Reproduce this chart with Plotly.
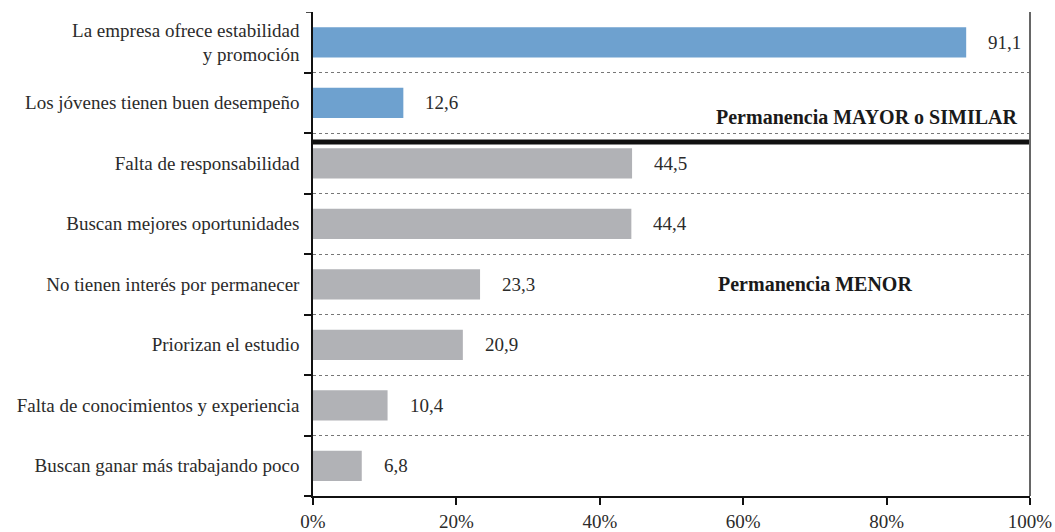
import plotly.graph_objects as go

categories = [
    "La empresa ofrece estabilidad<br>y promoción",
    "Los jóvenes tienen buen desempeño",
    "Falta de responsabilidad",
    "Buscan mejores oportunidades",
    "No tienen interés por permanecer",
    "Priorizan el estudio",
    "Falta de conocimientos y experiencia",
    "Buscan ganar más trabajando poco",
]
values = [91.1, 12.6, 44.5, 44.4, 23.3, 20.9, 10.4, 6.8]
groups = ["mayor", "mayor", "menor", "menor", "menor", "menor", "menor", "menor"]
x_ticks = [0, 20, 40, 60, 80, 100]
x_ticklabels = ["0%", "20%", "40%", "60%", "80%", "100%"]

BLUE = "#6EA1CF"
GRAY = "#B1B2B6"
FONT = "Liberation Serif"
TXT = "#2b2b2b"
FS = 19

pos = list(range(len(categories)))
colors = [BLUE if g == "mayor" else GRAY for g in groups]

fig = go.Figure()
fig.add_trace(go.Bar(
    y=pos, x=values, orientation="h", width=0.5,
    marker=dict(color=colors, line=dict(width=0)),
    hoverinfo="skip",
))

for p, v in zip(pos, values):
    fig.add_annotation(
        x=v, y=p, xref="x", yref="y",
        text=f"{v:.1f}".replace(".", ","),
        showarrow=False, xanchor="left", xshift=20,
        font=dict(family=FONT, size=FS, color=TXT),
    )

# group labels
fig.add_annotation(x=0.985, y=1.24, xref="paper", yref="y",
                   text="<b>Permanencia MAYOR o SIMILAR</b>", showarrow=False,
                   xanchor="right", yanchor="middle",
                   font=dict(family=FONT, size=20, color="#1a1a1a"))
fig.add_annotation(x=0.562, y=3.99, xref="paper", yref="y",
                   text="<b>Permanencia MENOR</b>", showarrow=False,
                   xanchor="left", yanchor="middle",
                   font=dict(family=FONT, size=20, color="#1a1a1a"))

# thick separator between groups
fig.add_shape(type="line", xref="paper", yref="y", x0=0, x1=1, y0=1.65, y1=1.65,
              line=dict(color="#111111", width=5))
# right frame line
fig.add_shape(type="line", xref="paper", yref="paper", x0=1, x1=1, y0=0, y1=1,
              line=dict(color="#666666", width=2))
# top tick on the y axis
fig.add_shape(type="line", xref="paper", yref="y", x0=-0.0098, x1=0, y0=-0.5, y1=-0.5,
              line=dict(color="#111111", width=1.5))

fig.update_layout(
    width=1055, height=532,
    margin=dict(l=313, r=25, t=12, b=36, autoexpand=False),
    plot_bgcolor="white", paper_bgcolor="white",
    showlegend=False,
    font=dict(family=FONT, size=FS, color=TXT),
    xaxis=dict(
        range=[0, 100], tickvals=x_ticks, ticktext=x_ticklabels,
        showgrid=False, zeroline=False, automargin=False,
        showline=True, linecolor="#111111", linewidth=1.5,
        ticks="outside", ticklen=7, tickcolor="#111111", tickwidth=1.5,
        tickfont=dict(family=FONT, size=FS, color=TXT),
        fixedrange=True,
    ),
    yaxis=dict(
        range=[7.5, -0.5], tickvals=pos, ticktext=categories,
        showgrid=False, zeroline=False, automargin=False,
        showline=True, linecolor="#111111", linewidth=1.5,
        ticks="", ticklabelstandoff=8,
        tickfont=dict(family=FONT, size=FS, color=TXT),
        minor=dict(
            tickmode="array", tickvals=[i + 0.5 for i in pos[:-1]] + [7.5],
            ticks="outside", ticklen=7, tickcolor="#111111", tickwidth=1.5,
            showgrid=True, gridcolor="#777777", griddash="dot", gridwidth=1,
        ),
        fixedrange=True,
    ),
)

fig.write_html(
    "out.html",
    config={"displayModeBar": False},
    post_script="document.body.style.margin='0';document.body.style.overflow='hidden';",
)
